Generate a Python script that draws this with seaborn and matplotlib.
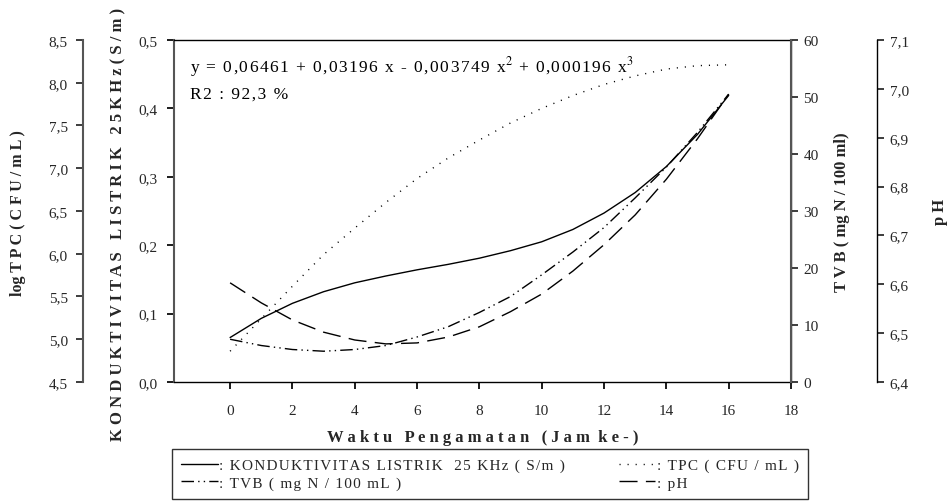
import re
import matplotlib
matplotlib.use("Agg")
import matplotlib.pyplot as plt
import seaborn as sns
import pandas as pd
from matplotlib.lines import Line2D
from matplotlib.ticker import FixedLocator, FuncFormatter

# ---- data ----
hours = [0, 1, 2, 3, 4, 5, 6, 7, 8, 9, 10, 11, 12, 13, 14, 15, 16]
konduktivitas = [0.065, 0.093, 0.115, 0.132, 0.145, 0.155, 0.164, 0.172, 0.181,
                 0.192, 0.205, 0.223, 0.247, 0.277, 0.315, 0.362, 0.419]
log_tpc = [4.86, 5.24, 5.62, 5.99, 6.30, 6.60, 6.88, 7.12, 7.33, 7.53, 7.70,
           7.85, 7.98, 8.08, 8.16, 8.20, 8.21]
tvb = [7.5, 6.4, 5.7, 5.4, 5.7, 6.4, 7.9, 9.7, 12.2, 15.0, 18.8, 22.8, 27.1,
       32.3, 37.7, 43.8, 50.5]
ph = [6.603, 6.562, 6.527, 6.502, 6.486, 6.478, 6.480, 6.492, 6.513, 6.544,
      6.580, 6.627, 6.681, 6.742, 6.815, 6.898, 6.989]

x_ticks = [0, 2, 4, 6, 8, 10, 12, 14, 16, 18]
k_ticks = [0.0, 0.1, 0.2, 0.3, 0.4, 0.5]
tpc_ticks = [4.5, 5.0, 5.5, 6.0, 6.5, 7.0, 7.5, 8.0, 8.5]
tvb_ticks = [0, 10, 20, 30, 40, 50, 60]
ph_ticks = [6.4, 6.5, 6.6, 6.7, 6.8, 6.9, 7.0, 7.1]

equation = "y = 0,06461 + 0,03196 x - 0,003749 x$^{2}$ + 0,000196 x$^{3}$"
r2_text = "R2 : 92,3 %"
legend_labels = [
    ": KONDUKTIVITAS LISTRIK  25 KHz ( S/m )",
    ": TVB ( mg N / 100 mL )",
    ": TPC ( CFU / mL )",
    ": pH",
]

df = pd.DataFrame({"jam": hours, "k": konduktivitas, "tpc": log_tpc,
                   "tvb": tvb, "ph": ph})

sns.set_theme(style="ticks")
plt.rcParams["font.family"] = ["Liberation Serif", "DejaVu Serif"]
plt.rcParams["mathtext.fontset"] = "stix"
plt.rcParams["axes.linewidth"] = 1.0

fig = plt.figure(figsize=(9.47, 5.02), dpi=100)
ax = fig.add_axes([174 / 947, 1 - 383 / 502, 617 / 947, 342 / 502])

SPINE = "#555555"
TICKSIZE = 11
LS_K = "-"
LS_TPC = (0, (0.8, 5))
LS_TVB = (0, (9, 3, 1, 3, 1, 3))
LS_PH = (0, (13, 6))


def comma(dec):
    return FuncFormatter(lambda v, p: f"{v:.{dec}f}".replace(".", ","))


def tracked(s):
    """Add slight letter spacing outside of $...$ math segments."""
    parts = re.split(r"(\$[^$]*\$)", s)
    out = []
    for p in parts:
        if p.startswith("$"):
            out.append(p)
        else:
            out.append("\u200a".join(p))
    return "".join(out)


# main axis: konduktivitas
sns.lineplot(data=df, x="jam", y="k", ax=ax, color="black", lw=1.0,
             linestyle=LS_K, estimator=None, sort=False)
ax.set_xlim(-1.8, 18)
ax.set_ylim(0, 0.5)
ax.xaxis.set_major_locator(FixedLocator(x_ticks))
ax.yaxis.set_major_locator(FixedLocator(k_ticks))
ax.yaxis.set_major_formatter(comma(1))
ax.set_xlabel("")
ax.set_ylabel("")
ax.tick_params(axis="x", direction="out", length=5, pad=11,
               labelsize=TICKSIZE, color="black")
ax.tick_params(axis="y", direction="out", length=5, pad=7,
               labelsize=TICKSIZE, color="black")
for s in ["top", "bottom"]:
    ax.spines[s].set_color("black")
ax.spines["left"].set_color(SPINE)
ax.spines["left"].set_linewidth(1.5)

# TPC axis (outer left)
ax_tpc = ax.twinx()
sns.lineplot(data=df, x="jam", y="tpc", ax=ax_tpc, color="black", lw=1.0,
             linestyle=LS_TPC, estimator=None, sort=False)
ax_tpc.set_ylim(4.5, 8.5)
ax_tpc.yaxis.set_ticks_position("left")
ax_tpc.yaxis.set_label_position("left")
ax_tpc.spines["left"].set_position(("axes", -0.1475))
for s in ["top", "bottom", "right"]:
    ax_tpc.spines[s].set_visible(False)
ax_tpc.spines["left"].set_color(SPINE)
ax_tpc.spines["left"].set_linewidth(1.5)
ax_tpc.yaxis.set_major_locator(FixedLocator(tpc_ticks))
ax_tpc.yaxis.set_major_formatter(comma(1))
ax_tpc.tick_params(axis="y", direction="out", length=5, pad=6,
                   labelsize=TICKSIZE)
ax_tpc.set_ylabel("")

# TVB axis (inner right)
ax_tvb = ax.twinx()
sns.lineplot(data=df, x="jam", y="tvb", ax=ax_tvb, color="black", lw=1.0,
             linestyle=LS_TVB, estimator=None, sort=False)
ax_tvb.set_ylim(0, 60)
ax_tvb.yaxis.set_major_locator(FixedLocator(tvb_ticks))
for s in ["top", "bottom", "left"]:
    ax_tvb.spines[s].set_visible(False)
ax_tvb.spines["right"].set_color(SPINE)
ax_tvb.spines["right"].set_linewidth(1.5)
ax_tvb.tick_params(axis="y", direction="out", length=5, pad=4,
                   labelsize=TICKSIZE)
ax_tvb.set_ylabel("")

# pH axis (outer right)
ax_ph = ax.twinx()
sns.lineplot(data=df, x="jam", y="ph", ax=ax_ph, color="black", lw=1.0,
             linestyle=LS_PH, estimator=None, sort=False)
ax_ph.set_ylim(6.4, 7.1)
ax_ph.spines["right"].set_position(("axes", 1.1394))
for s in ["top", "bottom", "left"]:
    ax_ph.spines[s].set_visible(False)
ax_ph.spines["right"].set_color("black")
ax_ph.yaxis.set_major_locator(FixedLocator(ph_ticks))
ax_ph.yaxis.set_major_formatter(comma(1))
ax_ph.tick_params(axis="y", direction="out", length=5, pad=4,
                  labelsize=TICKSIZE)
ax_ph.set_ylabel("")

for a in (ax_tpc, ax_tvb, ax_ph):
    a.set_xlim(-1.8, 18)
    if a.get_legend():
        a.get_legend().remove()

# equation text
ax.text(0.026, 0.924, tracked(equation), transform=ax.transAxes,
        fontsize=12.5, ha="left", va="center", color="black", zorder=10)
ax.text(0.026, 0.842, tracked(r2_text), transform=ax.transAxes,
        fontsize=12.5, ha="left", va="center", color="black", zorder=10)

# axis labels
fig.text(18 / 947, 1 - 213 / 502, "log T P C ( C F U / m L )", rotation=90,
         fontsize=11.5, fontweight="bold", ha="center", va="center")
fig.text(118 / 947, 1 - 224 / 502,
         "K O N D U K T I V I T A S   L I S T R I K   2 5 K H z ( S / m )",
         rotation=90, fontsize=12, fontweight="bold", ha="center", va="center")
fig.text(842 / 947, 1 - 212 / 502, "T V B ( mg N / 100 ml)", rotation=90,
         fontsize=12, fontweight="bold", ha="center", va="center")
fig.text(940 / 947, 1 - 212 / 502, "p H", rotation=90,
         fontsize=12, fontweight="bold", ha="center", va="center")
fig.text(483 / 947, 1 - 438 / 502,
         "W a k t u   P e n g a m a t a n   ( J a m  k e - )",
         fontsize=12, fontweight="bold", ha="center", va="center")

# legend
handles = [
    Line2D([], [], color="black", lw=1.0, linestyle=LS_K),
    Line2D([], [], color="black", lw=1.0, linestyle=LS_TVB),
    Line2D([], [], color="black", lw=1.0, linestyle=LS_TPC),
    Line2D([], [], color="black", lw=1.0, linestyle=LS_PH),
]
leg = fig.legend(handles, [tracked(s) for s in legend_labels], ncol=2,
                 loc="upper left", mode="expand",
                 bbox_to_anchor=(172 / 947, 0, 636 / 947, 1 - 450 / 502),
                 frameon=True, fontsize=11, handlelength=2.4,
                 handletextpad=0.1, columnspacing=0.6, labelspacing=0.25,
                 borderpad=0.6, borderaxespad=0, fancybox=False,
                 edgecolor="black")
leg.get_frame().set_linewidth(1.0)

fig.savefig("out.png", dpi=100)
